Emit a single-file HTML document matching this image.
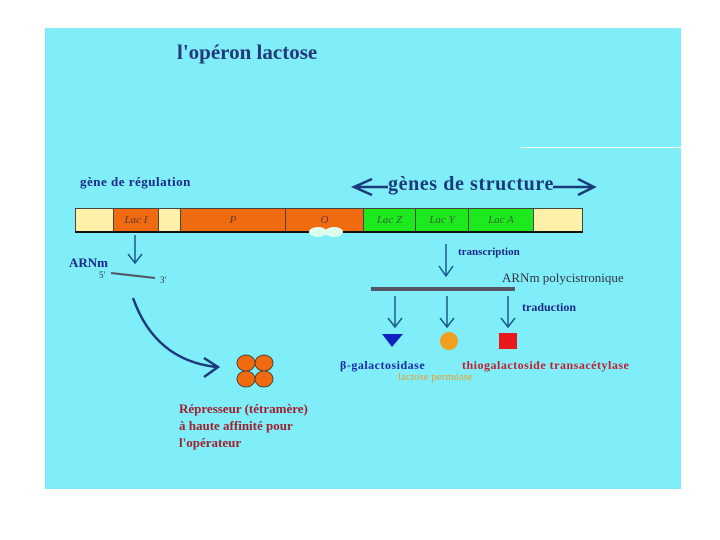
<!DOCTYPE html>
<html><head><meta charset="utf-8"><style>
body{margin:0;width:720px;height:540px;background:#fff;position:relative;overflow:hidden;font-family:"Liberation Serif",serif}
#p{position:absolute;left:45px;top:28px;width:636px;height:461px;background:#80eef8}
.t{position:absolute;white-space:nowrap;font-weight:bold}
.seg{position:absolute;top:208px;height:24px;box-sizing:border-box;border:1px solid #444;font-style:italic;font-size:11px;text-align:center;line-height:22px}
</style></head><body>
<div id="p"></div>
<div style="position:absolute;left:520px;top:147px;width:161px;height:1px;background:#fff"></div>
<div class="t" style="left:177px;top:40px;font-size:21px;color:#223a7a">l'opéron lactose</div>
<div class="t" style="left:80px;top:174px;font-size:13px;color:#1a2a8a;letter-spacing:0.5px">gène de régulation</div>
<div class="t" style="left:388px;top:173px;font-size:20px;color:#1a3a7a;letter-spacing:0.6px">gènes de structure</div>
<div class="seg" style="left:75px;width:39px;background:#fdf0a8"></div>
<div class="seg" style="left:113px;width:46px;background:#f06a10;color:#633">Lac I</div>
<div class="seg" style="left:158px;width:23px;background:#fdf0a8"></div>
<div class="seg" style="left:180px;width:106px;background:#f06a10;color:#633">P</div>
<div class="seg" style="left:285px;width:79px;background:#f06a10;color:#633">O</div>
<div class="seg" style="left:363px;width:53px;background:#1ee81e;color:#363">Lac Z</div>
<div class="seg" style="left:415px;width:54px;background:#1ee81e;color:#363">Lac Y</div>
<div class="seg" style="left:468px;width:66px;background:#1ee81e;color:#363">Lac A</div>
<div class="seg" style="left:533px;width:50px;background:#fdf0a8"></div>
<div style="position:absolute;left:75px;top:231px;width:508px;height:2px;background:#111"></div>
<div class="t" style="left:69px;top:255px;font-size:13px;color:#1a2a8a">ARNm</div>
<div class="t" style="left:99px;top:270px;font-size:9px;font-weight:normal;color:#333">5'</div>
<div class="t" style="left:160px;top:275px;font-size:9px;font-weight:normal;color:#333">3'</div>
<div class="t" style="left:458px;top:246px;font-size:11px;color:#1a2a8a">transcription</div>
<div class="t" style="left:502px;top:270px;font-size:13px;font-weight:normal;color:#334">ARNm polycistronique</div>
<div class="t" style="left:522px;top:300px;font-size:12px;color:#1a2a8a">traduction</div>
<div class="t" style="left:340px;top:358px;font-size:12px;color:#1a2aaa;letter-spacing:0.5px">β-galactosidase</div>
<div class="t" style="left:398px;top:371px;font-size:11px;font-weight:normal;color:#e8a030">lactose perméase</div>
<div class="t" style="left:462px;top:358px;font-size:12px;color:#c02030;letter-spacing:0.5px">thiogalactoside transacétylase</div>
<div class="t" style="left:179px;top:400px;font-size:13px;line-height:17px;color:#a02030">Répresseur (tétramère)<br>à haute affinité pour<br>l'opérateur</div>
<svg width="720" height="540" style="position:absolute;left:0;top:0">
<g stroke="#1a3a7a" stroke-width="2.5" fill="none">
<path d="M356 187H388M372 179L354 187L372 195"/>
<path d="M553 187H592M578 179L594 187L578 195"/>
</g>
<ellipse cx="318" cy="232" rx="9" ry="5" fill="#dfe" /><ellipse cx="334" cy="232" rx="9" ry="5" fill="#dfe"/>
<g stroke="#1a5a8a" stroke-width="1.5" fill="none">
<path d="M135 235V262M128 254L135 263L142 254"/>
<path d="M446 244V275M439 266L446 276L453 266"/>
<path d="M395 296V326M388 318L395 327L402 318"/>
<path d="M447 296V326M440 318L447 327L454 318"/>
<path d="M508 296V326M501 318L508 327L515 318"/>
</g>
<path d="M111 273L155 278" stroke="#556" stroke-width="2"/>
<path d="M371 289H515" stroke="#556" stroke-width="4"/>
<path d="M133 298Q155 360 216 367M204 358L218 367L204 377" stroke="#1a3a7a" stroke-width="2.5" fill="none"/>
<path d="M382 334H403L392 347Z" fill="#1020c0"/>
<circle cx="449" cy="341" r="9" fill="#f0a020"/>
<rect x="499" y="333" width="18" height="16" fill="#e81818"/>
<g fill="#f06a10" stroke="#333" stroke-width="0.8">
<ellipse cx="246" cy="363" rx="9" ry="8"/><ellipse cx="264" cy="363" rx="9" ry="8"/>
<ellipse cx="246" cy="379" rx="9" ry="8"/><ellipse cx="264" cy="379" rx="9" ry="8"/>
</g>
</svg>
</body></html>
